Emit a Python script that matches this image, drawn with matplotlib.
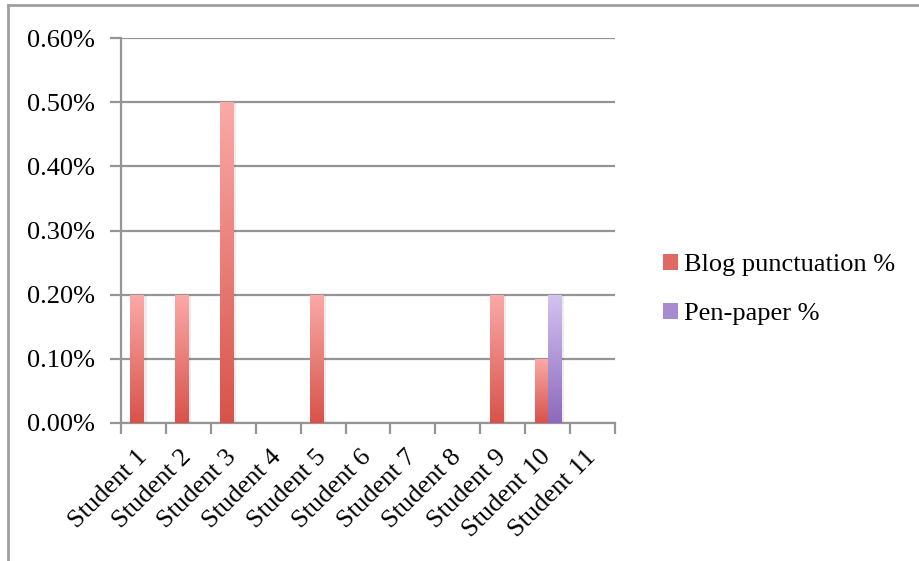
import numpy as np
import matplotlib.pyplot as plt
from matplotlib.lines import Line2D
from matplotlib.colors import LinearSegmentedColormap
from matplotlib.patches import Patch

plt.rcParams['font.family'] = ['Liberation Serif', 'DejaVu Serif']

students = ['Student %d' % i for i in range(1, 12)]
blog_pct = [0.2, 0.2, 0.5, 0.0, 0.2, 0.0, 0.0, 0.0, 0.2, 0.1, 0.0]
pen_pct = [0.0, 0.0, 0.0, 0.0, 0.0, 0.0, 0.0, 0.0, 0.0, 0.2, 0.0]
y_ticks = [0.0, 0.1, 0.2, 0.3, 0.4, 0.5, 0.6]

red_cmap = LinearSegmentedColormap.from_list('red', ['#d8524a', '#fbaaa8'])
purple_cmap = LinearSegmentedColormap.from_list('purple', ['#8c69bc', '#d3c4f0'])

fig = plt.figure(figsize=(9.2, 5.61), dpi=100)
ax = fig.add_axes([0.1315, 0.246, 0.537, 0.686])

x = np.arange(len(students))
width = 0.29
grad = np.linspace(0, 1, 256).reshape(-1, 1)


def gradient_bars(xs, vals, cmap, label):
    bars = ax.bar(xs, vals, width, color='none', edgecolor='none', label=label, zorder=3)
    for b in bars:
        h = b.get_height()
        if h <= 0:
            continue
        x0 = b.get_x()
        # faint drop shadow to the right
        ax.bar(x0 + b.get_width() + 0.02, h, 0.05, align='edge', color='#000000',
               alpha=0.07, zorder=2)
        im = ax.imshow(grad, cmap=cmap, origin='lower', aspect='auto',
                       extent=[x0, x0 + b.get_width(), 0, h], zorder=3)
        im.set_clip_path(b)
    return bars


gradient_bars(x - width / 2, blog_pct, red_cmap, 'Blog punctuation %')
gradient_bars(x + width / 2, pen_pct, purple_cmap, 'Pen-paper %')

fs = 19
ax.set_xlim(-0.5, len(students) - 0.5)
ax.set_ylim(0, 0.6)
ax.set_yticks(y_ticks)
ax.set_yticklabels(['%.2f%%' % v for v in y_ticks], fontsize=fs)
ax.yaxis.grid(True, color='#959595', linewidth=1.6, zorder=1)
ax.set_axisbelow(True)

# category labels centred, ticks on category boundaries
ax.set_xticks(x)
ax.set_xticklabels(students, rotation=45, ha='right', va='center',
                   rotation_mode='anchor', fontsize=fs)
ax.tick_params(axis='x', length=0, pad=22)
ax.set_xticks(np.arange(-0.5, len(students)), minor=True)
ax.tick_params(axis='x', which='minor', length=8, width=1.6, color='#959595')
ax.tick_params(axis='y', length=8, width=1.6, color='#959595', pad=11)

for side in ['top', 'right']:
    ax.spines[side].set_visible(False)
for side in ['left', 'bottom']:
    ax.spines[side].set_color('#959595')
    ax.spines[side].set_linewidth(1.6)

handles = [Patch(facecolor='#e06a63', edgecolor='none'),
           Patch(facecolor='#a88ad0', edgecolor='none')]
fig.legend(handles, ['Blog punctuation %', 'Pen-paper %'], loc='center left',
           bbox_to_anchor=(0.695, 0.484), frameon=False, fontsize=fs,
           handlelength=0.55, handleheight=0.55, handletextpad=0.25, labelspacing=1.0)

# outer chart frame
fig.add_artist(Line2D([8 / 920, 1], [1 - 5 / 561] * 2, color='#a0a0a0', linewidth=2))
fig.add_artist(Line2D([8 / 920] * 2, [0, 1 - 5 / 561], color='#a0a0a0', linewidth=2))

fig.savefig('out.png', dpi=100)
